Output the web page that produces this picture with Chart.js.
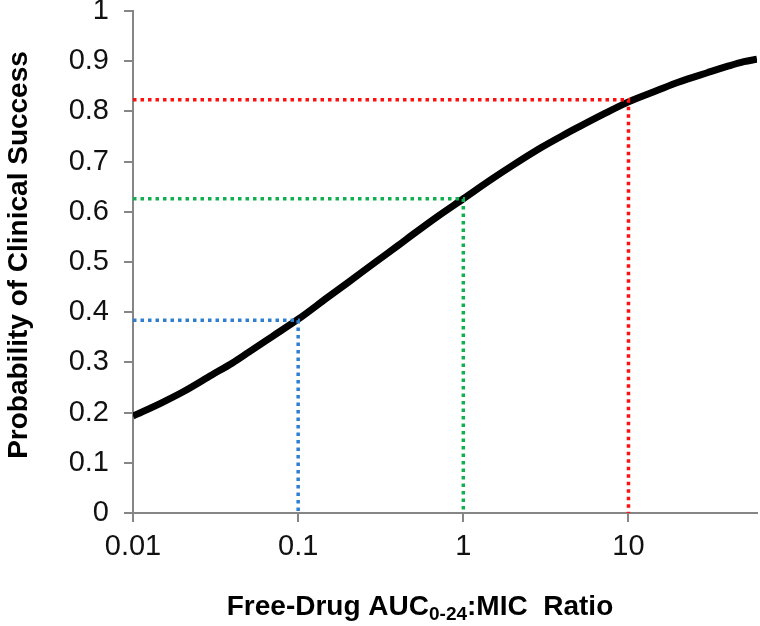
<!DOCTYPE html>
<html>
<head>
<meta charset="utf-8">
<script src="https://cdn.jsdelivr.net/npm/chart.js@4"></script>
<style>
  html, body { margin: 0; padding: 0; background: #fff; }
</style>
</head>
<body>
<canvas id="chartSuccess" width="760" height="626"></canvas>
<script>
// values
const ratio = [0.01, 0.015, 0.02, 0.03, 0.04, 0.05, 0.07, 0.1, 0.15, 0.2, 0.3, 0.4, 0.5, 0.7, 1, 1.5, 2, 3, 4, 5, 7, 10, 15, 20, 30, 40, 50, 60];
const probability = [0.193, 0.220, 0.241, 0.275, 0.299, 0.320, 0.352, 0.386, 0.429, 0.459, 0.502, 0.532, 0.556, 0.591, 0.626, 0.666, 0.693, 0.729, 0.752, 0.769, 0.794, 0.819, 0.842, 0.858, 0.877, 0.890, 0.899, 0.904];

const refX = [0.1, 1, 10];
const refY = [0.384, 0.626, 0.823];
const refColors = ['#2f7fd0', '#10b050', '#ff1010'];

const xTicks = [0.01, 0.1, 1, 10];
const xMin = 0.01;
const xMax = 60;

const xTitleParts = ['Free-Drug AUC', '0-24', ':MIC  Ratio'];
const yTitle = 'Probability of Clinical Success';

const fontFamily = '"Liberation Sans", Arial, sans-serif';

const refDatasets = refX.map((x, i) => ({
    data: [{ x: xMin, y: refY[i] }, { x: x, y: refY[i] }, { x: x, y: 0 }],
    borderColor: refColors[i],
    borderWidth: 3.5,
    borderDash: [3.5, 4],
    borderCapStyle: 'butt',
    pointRadius: 0,
    tension: 0,
    fill: false
}));

const curve = {
    data: ratio.map((x, i) => ({ x: x, y: probability[i] })),
    borderColor: '#000000',
    borderWidth: 7,
    pointRadius: 0,
    cubicInterpolationMode: 'monotone',
    fill: false
};

// axis titles drawn by hand (x title has a subscript)
const titlesPlugin = {
    id: 'axisTitles',
    afterDraw(chart) {
        const ctx = chart.ctx;
        const mainFont = 'bold 28px ' + fontFamily;
        const subFont = 'bold 19px ' + fontFamily;
        const parts = [
            { text: xTitleParts[0], font: mainFont, dy: 0 },
            { text: xTitleParts[1], font: subFont, dy: 5 },
            { text: xTitleParts[2], font: mainFont, dy: 0 }
        ];
        ctx.save();
        let total = 0;
        parts.forEach(p => {
            ctx.font = p.font;
            p.w = ctx.measureText(p.text).width;
            total += p.w;
        });
        const area = chart.chartArea;
        let x = (area.left + area.right) / 2 - 25 - total / 2;
        const baseY = 615;
        ctx.fillStyle = '#000';
        ctx.textBaseline = 'alphabetic';
        ctx.textAlign = 'left';
        parts.forEach(p => {
            ctx.font = p.font;
            ctx.fillText(p.text, x, baseY + p.dy);
            x += p.w;
        });

        ctx.translate(19, (area.top + area.bottom) / 2 - 7);
        ctx.rotate(-Math.PI / 2);
        ctx.font = mainFont;
        ctx.textAlign = 'center';
        ctx.textBaseline = 'middle';
        ctx.fillText(yTitle, 0, 0);
        ctx.restore();
    }
};

const ctx = document.getElementById('chartSuccess').getContext('2d');

new Chart(ctx, {
    type: 'line',
    data: {
        datasets: [...refDatasets, curve]
    },
    options: {
        responsive: false,
        animation: false,
        layout: {
            padding: { top: 11, right: 3, left: 0, bottom: 0 }
        },
        plugins: {
            legend: { display: false },
            tooltip: { enabled: false }
        },
        scales: {
            x: {
                type: 'logarithmic',
                min: xMin,
                max: xMax,
                afterBuildTicks: scale => {
                    scale.ticks = xTicks.map(v => ({ value: v }));
                },
                afterFit: scale => {
                    scale.height = 113;
                    scale.paddingLeft = 0;
                    scale.paddingRight = 0;
                },
                ticks: {
                    callback: v => String(v),
                    autoSkip: false,
                    maxRotation: 0,
                    padding: 8,
                    color: '#111',
                    font: { family: fontFamily, size: 29 }
                },
                grid: {
                    drawOnChartArea: false,
                    drawTicks: true,
                    tickLength: 9,
                    color: '#868686',
                    lineWidth: 2
                },
                border: { color: '#868686', width: 2 }
            },
            y: {
                type: 'linear',
                min: 0,
                max: 1,
                afterFit: scale => {
                    scale.width = 133;
                    scale.paddingTop = 0;
                    scale.paddingBottom = 0;
                },
                ticks: {
                    stepSize: 0.1,
                    callback: v => String(Math.round(v * 10) / 10),
                    padding: 15,
                    color: '#111',
                    font: { family: fontFamily, size: 29 }
                },
                grid: {
                    drawOnChartArea: false,
                    drawTicks: true,
                    tickLength: 9,
                    color: '#868686',
                    lineWidth: 2
                },
                border: { color: '#868686', width: 2 }
            }
        }
    },
    plugins: [titlesPlugin]
});
</script>
</body>
</html>
